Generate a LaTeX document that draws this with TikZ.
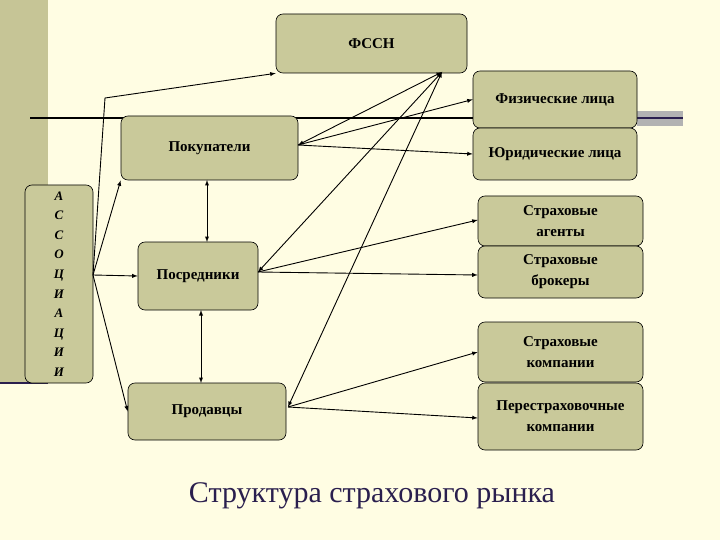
\documentclass[tikz,border=0pt]{standalone}
\usepackage{fontspec}
\setmainfont{Liberation Serif}
\usetikzlibrary{calc}
\begin{document}
\begin{tikzpicture}[x=1pt,y=-1pt,
  bx/.style={draw=black,fill=boxc,rounded corners=7pt,line width=0.6pt,align=center,
    font=\bfseries\fontsize{15}{21}\selectfont,inner sep=0pt},
  ar/.style={-latex,line width=0.9pt},
  dar/.style={latex-latex,line width=0.9pt},
  ln/.style={line width=0.9pt}]
\definecolor{bg}{HTML}{FFFDE3}
\definecolor{boxc}{HTML}{C9C99A}
\definecolor{band}{HTML}{C6C596}
\definecolor{ttl}{HTML}{2A1F4E}
\fill[bg] (0,0) rectangle (720,540);
\useasboundingbox (0,0) rectangle (720,540);
\fill[band] (0,0) rectangle (48,383);
\draw[line width=2.5pt,ttl] (0,383) -- (48,383);
\draw[line width=1.5pt] (30,118) -- (640,118);
\fill[gray!60] (637,111) rectangle (683,126);
\draw[line width=1.5pt,ttl] (637,118) -- (683,118);
% boxes
\node[bx,minimum width=191pt,minimum height=59pt] (fssn) at (371.5,43.5) {ФССН};
\node[bx,minimum width=164pt,minimum height=57pt] (fiz) at (555,99.5) {Физические лица};
\node[bx,minimum width=164pt,minimum height=52pt] (yur) at (555,154) {Юридические лица};
\node[bx,minimum width=165pt,minimum height=50pt] (ag) at (560.5,221) {Страховые\\агенты};
\node[bx,minimum width=165pt,minimum height=52pt] (br) at (560.5,272) {Страховые\\брокеры};
\node[bx,minimum width=165pt,minimum height=60pt] (sk) at (560.5,352) {Страховые\\компании};
\node[bx,minimum width=165pt,minimum height=67pt] (pk) at (560.5,416.5) {Перестраховочные\\компании};
\node[bx,minimum width=177pt,minimum height=64pt] (pok) at (209.5,148) {Покупатели};
\node[bx,minimum width=120pt,minimum height=68pt] (pos) at (198,276) {Посредники};
\node[bx,minimum width=158pt,minimum height=57pt] (pro) at (207,411.5) {Продавцы};
\node[bx,minimum width=68pt,minimum height=198pt,font=\bfseries\itshape\fontsize{13}{19.6}\selectfont] (asc) at (59,284)
  {А\\С\\С\\О\\Ц\\И\\А\\Ц\\И\\И};
\node[font=\fontsize{30}{34}\selectfont,text=ttl] (title) at (372,496) {Структура страхового рынка};
% points
\coordinate (fp) at (442,72);
\coordinate (ap) at (93,275);
\coordinate (kk) at (105,98);
\coordinate (pokR) at (298,145);
\coordinate (posR) at (258,272);
\coordinate (proR) at (288,407);
\coordinate (v1a) at (207,180);
\coordinate (v1b) at (207,242);
\coordinate (v2a) at (201,310);
\coordinate (v2b) at (201,383);
% connectors
\draw[ar] (ap) -- (kk) -- (fssn.south west);
\draw[ar] (ap) -- (pok.south west);
\draw[ar] (ap) -- (pos.west);
\draw[ar] (ap) -- (pro.west);
\draw[dar] (v1a) -- (v1b);
\draw[dar] (v2a) -- (v2b);
\draw[dar] (pokR) -- (fp);
\draw[dar] (posR) -- (fp);
\draw[dar] (proR) -- (fp);
\draw[ar] (pokR) -- (fiz.west);
\draw[ar] (pokR) -- (yur.west);
\draw[ar] (posR) -- ($(ag.west)+(0,-1)$);
\draw[ar] (posR) -- ($(br.west)+(0,3)$);
\draw[ar] (proR) -- (sk.west);
\draw[ar] (proR) -- ($(pk.west)+(0,1.5)$);
\end{tikzpicture}
\end{document}
